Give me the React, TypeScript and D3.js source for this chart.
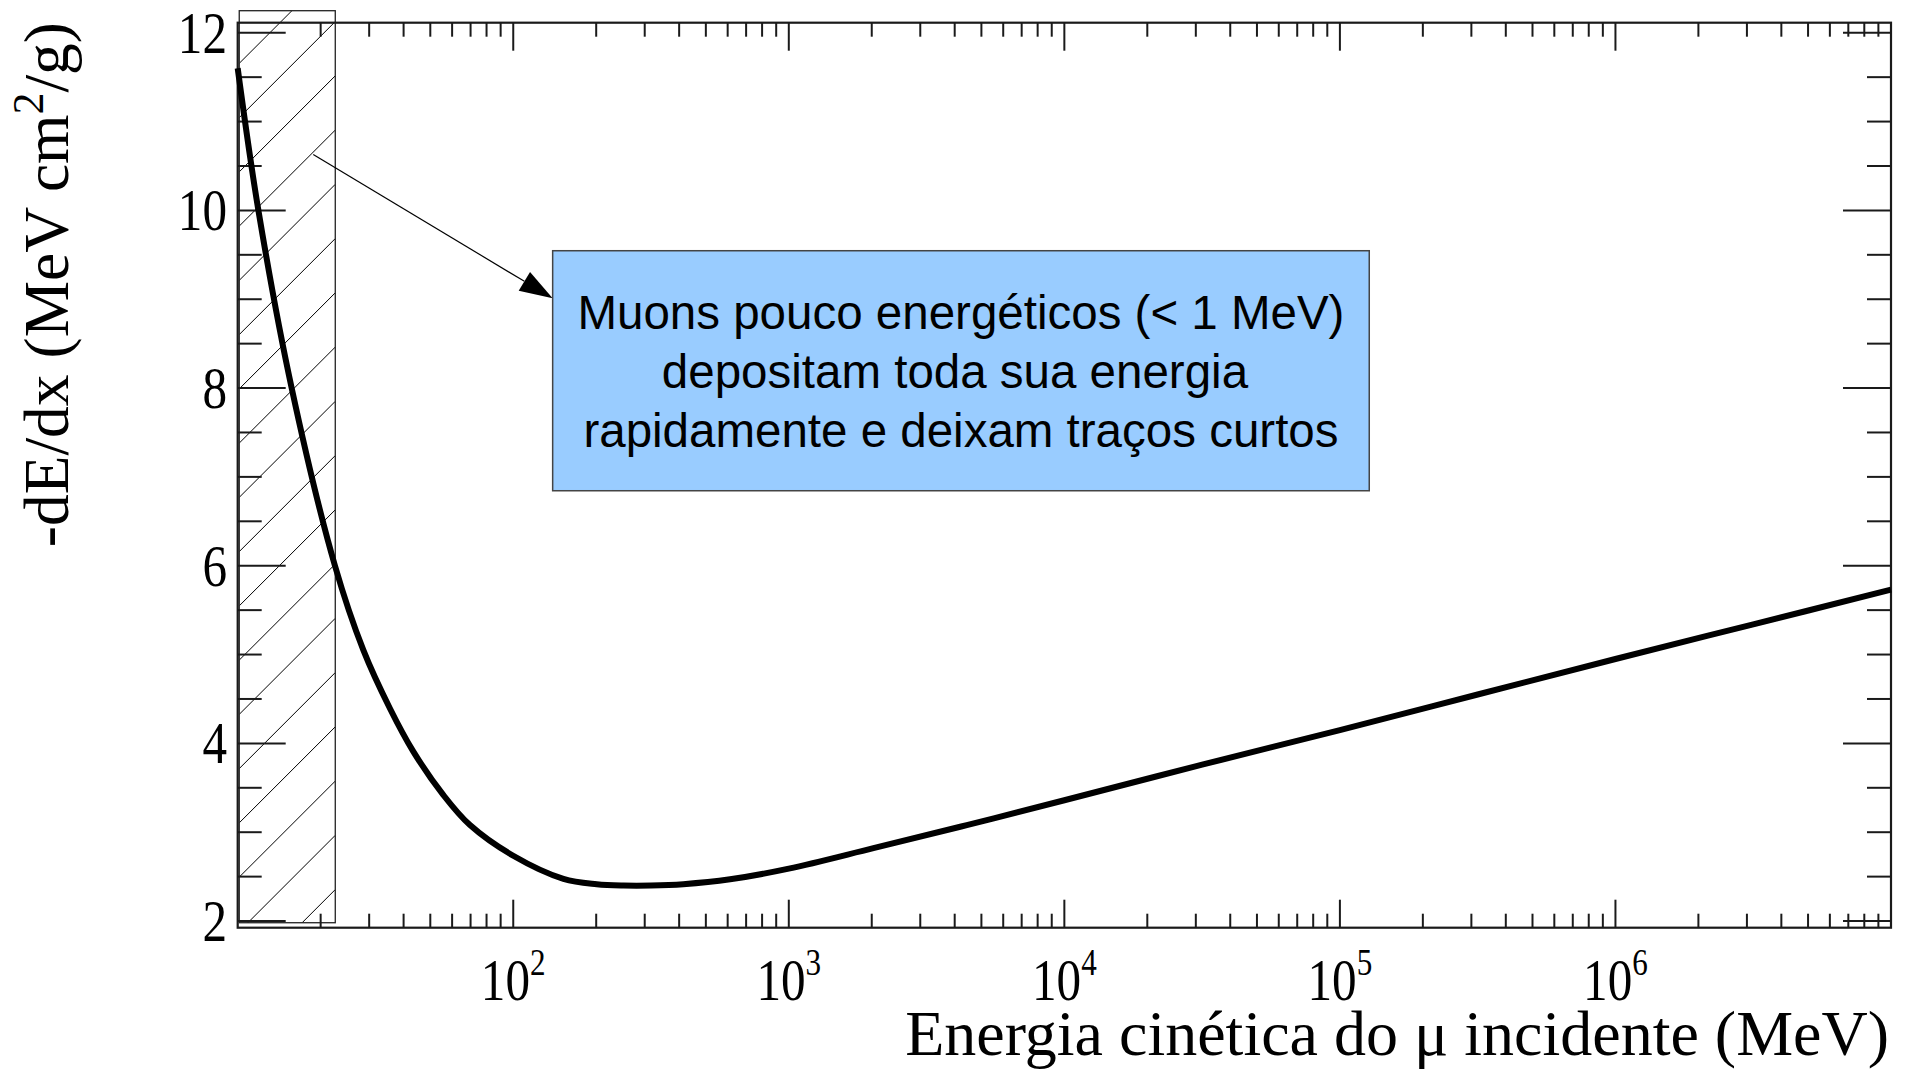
import React from 'react';
import * as d3 from 'd3';

const W = 1913;
const H = 1069;

// Kinetic energy of the incident muon (MeV)
const energyMeV = [
  10, 11.89, 15.7, 22.54, 28.58, 35.73, 43.35, 55.72, 69.66, 100, 152.1, 200.9, 251.2,
  316.2, 414, 612.4, 1000, 2028, 4426, 1e4, 31623, 1e5, 316228, 1e6, 3162278, 1e7,
];
// Stopping power -dE/dx (MeV cm²/g)
const stoppingPower = [
  11.6, 10.0, 8.0, 6.0, 5.05, 4.39, 3.91, 3.42, 3.08, 2.735, 2.475, 2.415, 2.4,
  2.4, 2.415, 2.47, 2.59, 2.82, 3.08, 3.36, 3.76, 4.15, 4.55, 4.95, 5.34, 5.73,
];

// Axis ticks
const yMajorTicks = [2, 4, 6, 8, 10, 12];
const xLabelExponents = [2, 3, 4, 5, 6];

// Axis ranges
const xDomain = [10, 1e7];
const yDomain = [1.925, 12.113];

// Shaded low-energy band (MeV, -dE/dx)
const bandEnergy = [10.13, 22.6];
const bandValue = [1.981, 12.248];

// Annotation box and arrow (data coordinates)
const noteEnergy = [139, 127800];
const noteValue = [6.844, 9.546];
const arrowFrom = [18.8, 10.63];
const arrowTo = [139, 9.01];
const noteLines = [
  'Muons pouco energéticos (< 1 MeV)',
  'depositam toda sua energia',
  'rapidamente e deixam traços curtos',
];

const frame = { left: 237.7, right: 1891, top: 22.7, bottom: 927.7 };

export default function App() {
  const x = d3.scaleLog().domain(xDomain).range([frame.left, frame.right]);
  const y = d3.scaleLinear().domain(yDomain).range([frame.bottom, frame.top]);

  const points = energyMeV.map((e, i) => [e, stoppingPower[i]] as [number, number]);
  const line = d3
    .line<[number, number]>()
    .x((d) => x(d[0]))
    .y((d) => y(d[1]))
    .curve(d3.curveCatmullRom.alpha(0.5));

  // Minor/major ticks
  const yMinor = d3.range(4, 25).map((k) => k / 2).filter((v) => !yMajorTicks.includes(v));
  const xMajor = xLabelExponents.map((p) => Math.pow(10, p));
  const xMinor: number[] = [];
  for (let p = 1; p <= 6; p++) for (let k = 2; k <= 9; k++) xMinor.push(k * Math.pow(10, p));

  const yMajLen = 48;
  const yMinLen = 24;
  const xMajLen = 28;
  const xMinLen = 14;
  const axisColor = '#1a1a1a';

  // Hatched band geometry
  const bL = x(bandEnergy[0]);
  const bR = x(bandEnergy[1]);
  const bT = y(bandValue[1]);
  const bB = y(bandValue[0]);
  const hatchStep = 54.25;
  const hatchPhase = 302.6;
  const hatch: number[] = [];
  for (let c = hatchPhase - hatchStep * 2; c < bR + bB + hatchStep; c += hatchStep) hatch.push(c);

  // Arrow
  const ax1 = x(arrowFrom[0]);
  const ay1 = y(arrowFrom[1]);
  const ax2 = x(arrowTo[0]);
  const ay2 = y(arrowTo[1]);
  const ang = Math.atan2(ay2 - ay1, ax2 - ax1);
  const headLen = 33;
  const headHalf = 11;
  const hbx = ax2 - headLen * Math.cos(ang);
  const hby = ay2 - headLen * Math.sin(ang);
  const head = [
    [ax2, ay2],
    [hbx + headHalf * Math.sin(ang), hby - headHalf * Math.cos(ang)],
    [hbx - headHalf * Math.sin(ang), hby + headHalf * Math.cos(ang)],
  ]
    .map((p) => p.join(','))
    .join(' ');

  const nL = x(noteEnergy[0]);
  const nR = x(noteEnergy[1]);
  const nT = y(noteValue[1]);
  const nB = y(noteValue[0]);
  const nCx = (nL + nR) / 2;
  const lineOffsets = [78.3, 137.3, 196.3];
  const lineShift = [0, -6, 0];

  const serif = '"Liberation Serif", "Times New Roman", serif';
  const sans = '"Liberation Sans", Arial, Helvetica, sans-serif';
  const labelSize = 60;
  const labelSqueeze = 0.82;

  return (
    <svg
      width={W}
      height={H}
      style={{ position: 'absolute', left: 0, top: 0, display: 'block', background: '#fff' }}
    >
      <rect x={0} y={0} width={W} height={H} fill="#fff" />
      <defs>
        <clipPath id="bandClip">
          <rect x={bL} y={bT} width={bR - bL} height={bB - bT} />
        </clipPath>
      </defs>

      {/* hatched band */}
      <g clipPath="url(#bandClip)">
        {hatch.map((c, i) => (
          <line key={i} x1={bL} y1={c - bL} x2={bR} y2={c - bR} stroke="#000" strokeWidth={1} />
        ))}
      </g>
      <rect x={bL} y={bT} width={bR - bL} height={bB - bT} fill="none" stroke="#222" strokeWidth={1.3} />

      {/* frame */}
      <rect
        x={frame.left}
        y={frame.top}
        width={frame.right - frame.left}
        height={frame.bottom - frame.top}
        fill="none"
        stroke={axisColor}
        strokeWidth={2.2}
      />

      {/* y ticks, left and right */}
      {yMajorTicks.map((v) => (
        <g key={'ym' + v}>
          <line x1={frame.left} x2={frame.left + yMajLen} y1={y(v)} y2={y(v)} stroke={axisColor} strokeWidth={2} />
          <line x1={frame.right} x2={frame.right - yMajLen} y1={y(v)} y2={y(v)} stroke={axisColor} strokeWidth={2} />
        </g>
      ))}
      {yMinor.map((v) => (
        <g key={'yn' + v}>
          <line x1={frame.left} x2={frame.left + yMinLen} y1={y(v)} y2={y(v)} stroke={axisColor} strokeWidth={2} />
          <line x1={frame.right} x2={frame.right - yMinLen} y1={y(v)} y2={y(v)} stroke={axisColor} strokeWidth={2} />
        </g>
      ))}

      {/* x ticks, bottom and top */}
      {xMajor.map((e) => (
        <g key={'xm' + e}>
          <line x1={x(e)} x2={x(e)} y1={frame.bottom} y2={frame.bottom - xMajLen} stroke={axisColor} strokeWidth={2} />
          <line x1={x(e)} x2={x(e)} y1={frame.top} y2={frame.top + xMajLen} stroke={axisColor} strokeWidth={2} />
        </g>
      ))}
      {xMinor.map((e) => (
        <g key={'xn' + e}>
          <line x1={x(e)} x2={x(e)} y1={frame.bottom} y2={frame.bottom - xMinLen} stroke={axisColor} strokeWidth={2} />
          <line x1={x(e)} x2={x(e)} y1={frame.top} y2={frame.top + xMinLen} stroke={axisColor} strokeWidth={2} />
        </g>
      ))}

      {/* y tick labels */}
      {yMajorTicks.map((v) => (
        <text
          key={'yl' + v}
          transform={`translate(227,${y(v) + 20}) scale(${labelSqueeze},1)`}
          textAnchor="end"
          fontFamily={serif}
          fontSize={labelSize}
          fill="#000"
        >
          {v}
        </text>
      ))}

      {/* x tick labels */}
      {xLabelExponents.map((p) => (
        <text
          key={'xl' + p}
          transform={`translate(${x(Math.pow(10, p))},1000) scale(${labelSqueeze},1)`}
          textAnchor="middle"
          fontFamily={serif}
          fontSize={labelSize}
          fill="#000"
        >
          10
          <tspan fontSize={38} dy={-25}>
            {p}
          </tspan>
        </text>
      ))}

      {/* axis titles */}
      <text x={1889} y={1055} textAnchor="end" fontFamily={serif} fontSize={64} fill="#000">
        Energia cinética do μ incidente (MeV)
      </text>
      <text
        transform="translate(68,22) rotate(-90)"
        textAnchor="end"
        fontFamily={serif}
        fontSize={63.5}
        fill="#000"
      >
        -dE/dx (MeV cm
        <tspan fontSize={44} dy={-25}>
          2
        </tspan>
        <tspan dy={25}>/g)</tspan>
      </text>

      {/* curve */}
      <path d={line(points) ?? ''} fill="none" stroke="#000" strokeWidth={6} strokeLinejoin="round" />

      {/* annotation */}
      <line x1={ax1} y1={ay1} x2={hbx} y2={hby} stroke="#000" strokeWidth={1.2} />
      <polygon points={head} fill="#000" />
      <rect x={nL} y={nT} width={nR - nL} height={nB - nT} fill="#99ccff" stroke="#444" strokeWidth={1.5} />
      {noteLines.map((t, i) => (
        <text
          key={i}
          x={nCx + lineShift[i]}
          y={nT + lineOffsets[i]}
          textAnchor="middle"
          fontFamily={sans}
          fontSize={47.5}
          fill="#000"
        >
          {t}
        </text>
      ))}
    </svg>
  );
}
